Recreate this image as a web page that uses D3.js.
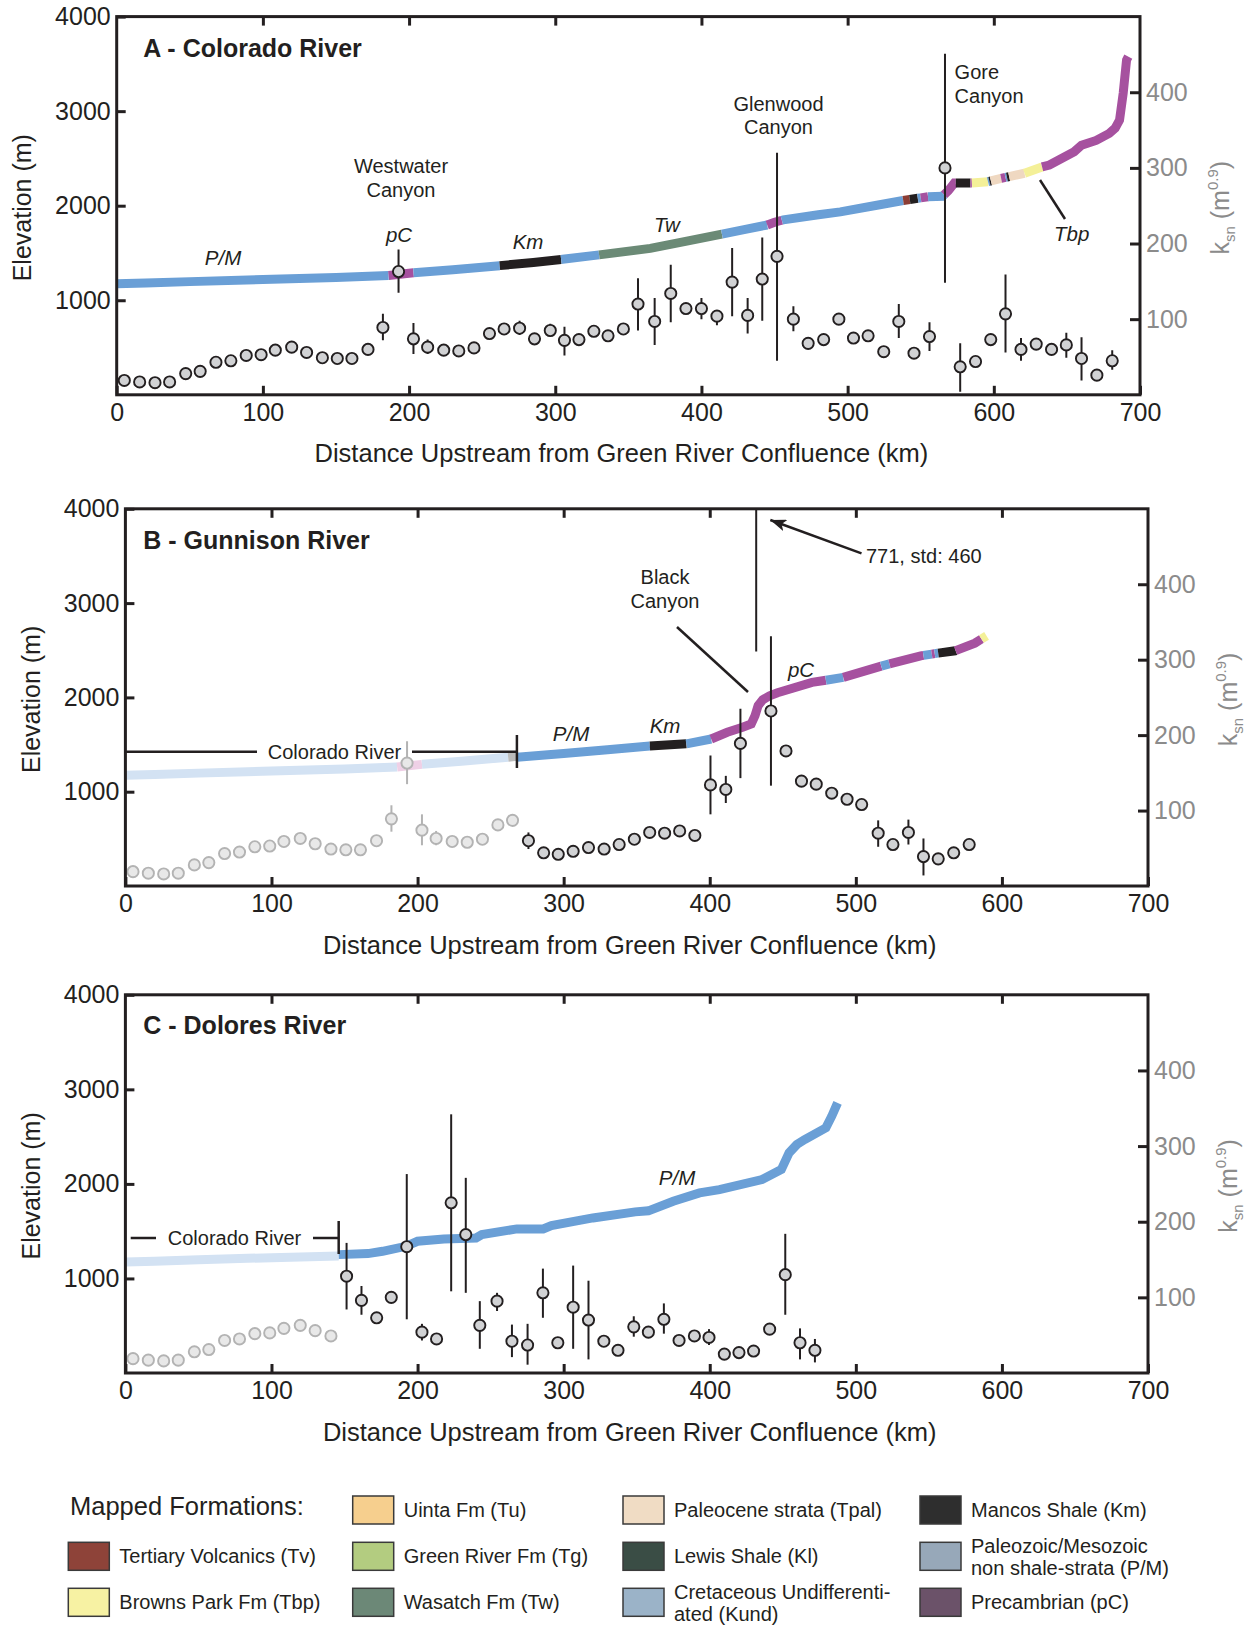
<!DOCTYPE html>
<html>
<head>
<meta charset="utf-8">
<script src="https://cdn.jsdelivr.net/npm/d3@7"></script>
<style>
  body { margin: 0; background: #fff; }
  svg { font-family: "Liberation Sans", Arial, Helvetica, sans-serif; }
</style>
</head>
<body>
<script>

// ---- data ----
const distanceTicks = [0, 100, 200, 300, 400, 500, 600, 700];
const elevationTicks = [1000, 2000, 3000, 4000];
const ksnTicks = [100, 200, 300, 400];

// river long profiles: [km upstream, elevation m]
const coloradoProfile = [
  [0, 1175], [20, 1183], [50, 1197], [100, 1220], [150, 1240], [186, 1262], [203, 1290],
  [230, 1322], [262, 1366], [285, 1400], [305, 1433], [330, 1480], [365, 1549], [390, 1625],
  [414, 1700], [430, 1750], [445, 1796], [450, 1825], [456, 1850], [480, 1905], [495, 1935],
  [520, 2005], [538, 2055], [555, 2095], [565, 2100], [569, 2160], [573, 2240], [585, 2240],
  [596, 2254], [605, 2290], [621, 2343], [633, 2410], [638, 2430], [655, 2571], [660, 2640],
  [670, 2690], [679, 2765], [683, 2820], [686, 2906], [688.5, 3189], [690.8, 3541], [692, 3576]
];
const gunnisonProfile = [
  [268, 1365], [300, 1405], [330, 1445], [359, 1485], [384, 1508], [401, 1559], [412, 1630],
  [422.5, 1683], [428.4, 1718], [431, 1806], [433.1, 1912], [436.3, 1975], [441, 2018],
  [446.4, 2050], [470, 2159], [491.4, 2212], [518, 2335], [544.4, 2441], [556, 2469],
  [568, 2494], [581.5, 2575], [589.5, 2653]
];
const doloresProfile = [
  [146, 1252], [166, 1263], [176, 1287], [192, 1340], [200, 1393], [218, 1418], [240, 1428],
  [244, 1464], [268, 1524], [286, 1524], [291.6, 1559], [320, 1640], [349, 1704], [358, 1715],
  [375, 1817], [393, 1905], [406.6, 1940], [435.8, 2046], [449, 2152], [454.3, 2328],
  [459.6, 2416], [465, 2469], [479.5, 2593], [483.5, 2716], [487.5, 2857]
];

// mapped formation along each profile: [from km, to km, unit]
const coloradoUnits = [
  [0, 186, 'PM'], [186, 203, 'pC'], [203, 262, 'PM'], [262, 304, 'Km'], [304, 330, 'PM'],
  [330, 414, 'Tw'], [414, 445, 'PM'], [445, 455, 'pC'], [455, 538, 'PM'], [538, 542.5, 'Tv'],
  [542.5, 548, 'Km'], [548, 550, 'PM'], [550, 555, 'pC'], [555, 566, 'PM'], [566, 574, 'pC'],
  [574, 584, 'Km'], [584, 585, 'pC'], [585, 596, 'Tbp'], [596, 597, 'PM'], [597, 598, 'Km'],
  [598, 605, 'Tpal'], [605, 608, 'pC'], [608, 609, 'PM'], [609, 610.5, 'Km'],
  [610.5, 621, 'Tpal'], [621, 633, 'Tbp'], [633, 692, 'pC']
];
const gunnisonUnits = [
  [268, 359, 'PM'], [359, 384, 'Km'], [384, 401, 'PM'], [401, 479.5, 'pC'], [479.5, 491.4, 'PM'],
  [491.4, 517.4, 'pC'], [517.4, 523, 'PM'], [523, 546.3, 'pC'], [546.3, 552, 'PM'],
  [552, 554, 'pC'], [554, 556.4, 'PM'], [556.4, 568.3, 'Km'], [568.3, 586, 'pC'], [586, 589.5, 'Tbp']
];
const doloresUnits = [[146, 487.5, 'PM']];

// channel steepness: [km, ksn, low, high] (low/high only where an error bar shows)
const coloradoKsn = [
  [5.2, 19], [15.7, 17], [26.2, 16], [36.2, 17], [47.2, 28], [57.1, 31], [67.9, 43], [78.1, 45],
  [88.6, 52], [98.8, 53], [108.5, 59], [119.7, 63], [129.9, 56], [140.7, 49], [150.9, 48],
  [160.9, 48], [171.9, 60], [182.1, 89, 72, 107], [192.8, 163, 135, 192], [203, 74, 54, 95],
  [212.7, 63, 54, 73], [223.7, 59], [234, 58], [244.4, 62], [255, 81], [265, 87],
  [275.6, 88, 79, 98], [285.8, 74], [296.6, 85, 77, 94], [306.3, 72, 52, 90], [316.2, 73],
  [326.4, 84], [336.1, 78], [346.6, 87], [356.6, 120, 85, 154], [368, 97, 66, 128],
  [379, 134, 96, 172], [389.4, 114], [400, 114, 100, 128], [410.6, 104, 92, 112],
  [421, 149, 104, 194], [431.6, 105, 81, 128], [441.6, 153, 98, 208], [451.7, 183, 45, 320],
  [462.9, 100, 84, 117], [473, 68], [483.6, 73], [494, 100], [504, 75, 67, 83], [514, 78],
  [524.7, 57], [535, 97, 75, 120], [545.4, 55], [556, 77, 58, 96], [566.6, 300, 148, 451],
  [577, 37, 4, 68], [587.5, 44], [597.9, 73], [608, 107, 56, 159], [618.6, 60, 45, 75],
  [629, 67], [639.5, 60], [649.6, 66, 49, 82], [660, 48, 19, 76], [670.5, 26], [681, 45, 33, 59]
];
const gunnisonKsn = [
  [275.9, 60, 49, 71], [286.3, 44], [296.3, 42], [306.5, 46], [317, 51], [327.7, 49], [338, 55],
  [348.4, 62], [358.9, 71], [369.1, 70], [379.4, 73], [389.8, 67], [400.5, 134, 95, 173],
  [411, 128, 110, 146], [421, 189, 143, 235], [431.8, 771, 311, 1231], [441.9, 232, 133, 331],
  [452.2, 179], [462.8, 139], [472.9, 135], [483.5, 123], [494, 115], [504, 108],
  [515.3, 70, 52, 87], [525.4, 55], [536, 71, 55, 88], [546.3, 39, 14, 63], [556.4, 36],
  [567, 44], [577.6, 55]
];
const doloresKsn = [
  [151.4, 128, 84, 172], [161.6, 96, 77, 115], [172, 73], [182, 100], [192.6, 167, 71, 263],
  [203, 54, 43, 65], [213, 45], [223, 225, 108, 342], [233, 183, 106, 258], [242.6, 63, 32, 95],
  [254.4, 95, 82, 106], [264.6, 42, 21, 64], [275.3, 37, 11, 65], [285.8, 106, 73, 138],
  [296, 40], [306.5, 87, 32, 142], [317, 70, 18, 122], [327.5, 42], [337.2, 30],
  [348, 61, 48, 75], [358, 54], [368.6, 71, 52, 92], [379, 43], [389.5, 49],
  [399.5, 47, 37, 58], [410, 25], [420, 27], [430, 29], [441, 58], [451.7, 130, 77, 184],
  [461.8, 40, 18, 59], [472, 30, 14, 45]
];

// where the tributaries join the Colorado (km)
const gunnisonJoin = 268;
const doloresJoin = 146;

const legendNames = [
  'Tertiary Volcanics (Tv)', 'Browns Park Fm (Tbp)',
  'Uinta Fm (Tu)', 'Green River Fm (Tg)', 'Wasatch Fm (Tw)',
  'Paleocene strata (Tpal)', 'Lewis Shale (Kl)', 'Cretaceous Undifferenti-|ated (Kund)',
  'Mancos Shale (Km)', 'Paleozoic/Mesozoic|non shale-strata (P/M)', 'Precambrian (pC)'
];

// ---- styles ----
const INK = '#231f20';
const GREY_TXT = '#8b8b8b';
const unitColor = {PM: '#6a9fd6', pC: '#a6519f', Km: '#231f20', Tw: '#6b8a76',
  Tv: '#8c3d34', Tbp: '#f4f098', Tpal: '#efd8c1'};
const fadedColor = {PM: '#d3e2f3', pC: '#efd0e6', Km: '#bcbcbc'};
const legendColors = ['#8e4339', '#f7f2a3', '#f6cf8e', '#b3cc80', '#6c8877', '#f0dcc4',
  '#3a4d45', '#9bb3c8', '#2e2e2e', '#97a8b9', '#6b5269'];

const WIDTH = 1257;
const HEIGHT = 1625;

const svg = d3.select('body')
  .append('svg')
  .attr('width', WIDTH)
  .attr('height', HEIGHT);

svg.append('defs').append('marker')
  .attr('id', 'arrow')
  .attr('markerUnits', 'userSpaceOnUse')
  .attr('markerWidth', 16).attr('markerHeight', 12)
  .attr('viewBox', '0 0 16 12')
  .attr('refX', 16).attr('refY', 6)
  .attr('orient', 'auto')
  .append('path')
  .attr('d', 'M0,0 L16,6 L0,12 L4,6 Z')
  .attr('fill', INK);

const boxes = {
  A: {left: 116.7, right: 1140, top: 16.6, bottom: 394.8},
  B: {left: 125.4, right: 1148, top: 508.8, bottom: 886},
  C: {left: 125.4, right: 1148, top: 994.8, bottom: 1373}
};

function elevAt(profile, km) {
  const i = d3.bisector(d => d[0]).left(profile, km);
  if (i <= 0) return profile[0][1];
  if (i >= profile.length) return profile[profile.length - 1][1];
  const a = profile[i - 1], b = profile[i];
  return a[1] + (b[1] - a[1]) * (km - a[0]) / (b[0] - a[0]);
}

function makePanel(key) {
  const b = boxes[key];
  const s = {
    b: b,
    x: d3.scaleLinear().domain([0, 700]).range([b.left, b.right]),
    y: d3.scaleLinear().domain([0, 4000]).range([b.bottom, b.top]),
    k: d3.scaleLinear().domain([0, 500]).range([b.bottom, b.top])
  };
  svg.select('defs').append('clipPath').attr('id', 'clip' + key)
    .append('rect')
    .attr('x', b.left).attr('y', b.top)
    .attr('width', b.right - b.left).attr('height', b.bottom - b.top);
  s.g = svg.append('g').attr('clip-path', `url(#clip${key})`);
  return s;
}

function drawProfile(s, profile, units, colors, maxKm) {
  const line = d3.line().x(d => s.x(d[0])).y(d => s.y(d[1]));
  units.forEach(u => {
    const from = u[0];
    const to = Math.min(u[1], maxKm);
    if (to <= from) return;
    const pts = [[from, elevAt(profile, from)]]
      .concat(profile.filter(p => p[0] > from && p[0] < to))
      .concat([[to, elevAt(profile, to)]]);
    s.g.append('path')
      .attr('d', line(pts))
      .attr('fill', 'none')
      .attr('stroke', colors[u[2]])
      .attr('stroke-width', 9);
  });
}

function drawKsn(s, data, faded) {
  const stroke = faded ? '#b3b3b3' : INK;
  s.g.selectAll(null)
    .data(data.filter(d => d.length > 2))
    .enter()
    .append('line')
    .attr('x1', d => s.x(d[0])).attr('x2', d => s.x(d[0]))
    .attr('y1', d => s.k(d[2])).attr('y2', d => s.k(d[3]))
    .attr('stroke', stroke)
    .attr('stroke-width', 2);
  s.g.selectAll(null)
    .data(data)
    .enter()
    .append('circle')
    .attr('cx', d => s.x(d[0]))
    .attr('cy', d => s.k(d[1]))
    .attr('r', 5.6)
    .attr('fill', faded ? '#e8e8e8' : '#d1d2d4')
    .attr('stroke', stroke)
    .attr('stroke-width', 1.9);
}

function styleAxis(g, color) {
  g.select('.domain').remove();
  g.selectAll('.tick line').attr('stroke', INK).attr('stroke-width', 3);
  g.selectAll('.tick text')
    .attr('fill', color)
    .attr('font-size', 25)
    .attr('font-family', '"Liberation Sans", Arial, sans-serif');
}

function drawAxes(s, elevLabelX, ksnLabelX) {
  const b = s.b;
  svg.append('g')
    .attr('transform', `translate(0,${b.bottom})`)
    .call(d3.axisBottom(s.x).tickValues(distanceTicks).tickSize(-9).tickPadding(8)
      .tickFormat(d3.format('d')))
    .call(g => styleAxis(g, INK));
  svg.append('g')
    .attr('transform', `translate(0,${b.top})`)
    .call(d3.axisTop(s.x).tickValues(distanceTicks.slice(1, -1)).tickSize(-9).tickFormat(''))
    .call(g => styleAxis(g, INK));
  svg.append('g')
    .attr('transform', `translate(${b.left},0)`)
    .call(d3.axisLeft(s.y).tickValues(elevationTicks).tickSize(-9).tickPadding(6)
      .tickFormat(d3.format('d')))
    .call(g => styleAxis(g, INK));
  svg.append('g')
    .attr('transform', `translate(${b.right},0)`)
    .call(d3.axisRight(s.k).tickValues(ksnTicks).tickSize(-10).tickPadding(6)
      .tickFormat(d3.format('d')))
    .call(g => styleAxis(g, GREY_TXT));

  svg.append('rect')
    .attr('x', b.left).attr('y', b.top)
    .attr('width', b.right - b.left).attr('height', b.bottom - b.top)
    .attr('fill', 'none')
    .attr('stroke', INK)
    .attr('stroke-width', 3);

  const cy = (b.top + b.bottom) / 2 + 2;
  svg.append('text')
    .attr('transform', `translate(${elevLabelX},${cy}) rotate(-90)`)
    .attr('text-anchor', 'middle')
    .attr('font-size', 25)
    .attr('fill', INK)
    .text('Elevation (m)');

  const kl = svg.append('text')
    .attr('transform', `translate(${ksnLabelX},${cy}) rotate(-90)`)
    .attr('text-anchor', 'middle')
    .attr('font-size', 25)
    .attr('fill', GREY_TXT);
  kl.append('tspan').text('k');
  kl.append('tspan').attr('font-size', 15).attr('dy', 6).text('sn');
  kl.append('tspan').attr('dy', -6).text(' (m');
  kl.append('tspan').attr('font-size', 15).attr('dy', -11).text('0.9');
  kl.append('tspan').attr('dy', 11).text(')');

  svg.append('text')
    .attr('x', (b.left + b.right) / 2 - 7)
    .attr('y', b.bottom + 67.5)
    .attr('text-anchor', 'middle')
    .attr('font-size', 25.5)
    .attr('fill', INK)
    .text('Distance Upstream from Green River Confluence (km)');
}

function text(x, y, str, size, opts) {
  opts = opts || {};
  return svg.append('text')
    .attr('x', x).attr('y', y)
    .attr('font-size', size)
    .attr('font-weight', opts.bold ? 'bold' : null)
    .attr('font-style', opts.italic ? 'italic' : null)
    .attr('text-anchor', opts.anchor || 'start')
    .attr('fill', INK)
    .text(str);
}

function rule(x1, y1, x2, y2, w) {
  return svg.append('line')
    .attr('x1', x1).attr('y1', y1).attr('x2', x2).attr('y2', y2)
    .attr('stroke', INK).attr('stroke-width', w || 2.5);
}

// ---- A: Colorado River ----
const pa = makePanel('A');
drawProfile(pa, coloradoProfile, coloradoUnits, unitColor, 700);
drawKsn(pa, coloradoKsn, false);
drawAxes(pa, 31, 1229);

text(143.3, 56.7, 'A - Colorado River', 25, {bold: true});
text(401, 173.3, 'Westwater', 20, {anchor: 'middle'});
text(401, 196.7, 'Canyon', 20, {anchor: 'middle'});
text(778.5, 111, 'Glenwood', 20, {anchor: 'middle'});
text(778.5, 134, 'Canyon', 20, {anchor: 'middle'});
text(954.6, 78.5, 'Gore', 20);
text(954.6, 102.5, 'Canyon', 20);
text(223, 265, 'P/M', 20.5, {italic: true, anchor: 'middle'});
text(399, 241.7, 'pC', 20.5, {italic: true, anchor: 'middle'});
text(528, 249.3, 'Km', 20.5, {italic: true, anchor: 'middle'});
text(667, 232.3, 'Tw', 20.5, {italic: true, anchor: 'middle'});
text(1071.7, 240.7, 'Tbp', 20.5, {italic: true, anchor: 'middle'});
rule(1040, 180, 1065, 219, 2.5);

// ---- B: Gunnison River ----
const pb = makePanel('B');
drawProfile(pb, coloradoProfile, coloradoUnits, fadedColor, gunnisonJoin);
drawProfile(pb, gunnisonProfile, gunnisonUnits, unitColor, 700);
drawKsn(pb, coloradoKsn.filter(d => d[0] < gunnisonJoin), true);
drawKsn(pb, gunnisonKsn, false);
drawAxes(pb, 40, 1237);

text(143.3, 549.3, 'B - Gunnison River', 25, {bold: true});
text(665, 584, 'Black', 20, {anchor: 'middle'});
text(665, 607.5, 'Canyon', 20, {anchor: 'middle'});
rule(677, 627, 748, 692, 2.5);
rule(861.5, 553.3, 770.3, 520, 2.5).attr('marker-end', 'url(#arrow)');
text(866, 563, '771, std: 460', 20);
rule(pb.b.left, 751.7, 257, 751.7, 2.5);
text(334.5, 758.5, 'Colorado River', 20, {anchor: 'middle'});
rule(412, 751.7, pb.x(gunnisonJoin), 751.7, 2.5);
rule(pb.x(gunnisonJoin), 735, pb.x(gunnisonJoin), 768, 2.5);
text(571, 740.7, 'P/M', 20.5, {italic: true, anchor: 'middle'});
text(665, 733, 'Km', 20.5, {italic: true, anchor: 'middle'});
text(801, 676.7, 'pC', 20.5, {italic: true, anchor: 'middle'});

// ---- C: Dolores River ----
const pc = makePanel('C');
drawProfile(pc, coloradoProfile, coloradoUnits, fadedColor, doloresJoin);
drawProfile(pc, doloresProfile, doloresUnits, unitColor, 700);
drawKsn(pc, coloradoKsn.filter(d => d[0] < doloresJoin), true);
drawKsn(pc, doloresKsn, false);
drawAxes(pc, 40, 1237);

text(143.3, 1034.3, 'C - Dolores River', 25, {bold: true});
rule(130.7, 1238, 156, 1238, 2.5);
text(234.5, 1245, 'Colorado River', 20, {anchor: 'middle'});
rule(313, 1238, pc.x(doloresJoin), 1238, 2.5);
rule(pc.x(doloresJoin), 1221, pc.x(doloresJoin), 1254, 2.5);
text(677, 1185, 'P/M', 20.5, {italic: true, anchor: 'middle'});

// ---- legend ----
text(70, 1515, 'Mapped Formations:', 25.5);
const legendColX = [68.3, 352.7, 623, 920];
const legendRowY = [1496, 1542.3, 1588.3];
const legendSlots = [[0, 1], [0, 2], [1, 0], [1, 1], [1, 2], [2, 0], [2, 1], [2, 2], [3, 0], [3, 1], [3, 2]];

const legend = svg.append('g');
legendNames.forEach((name, i) => {
  const x = legendColX[legendSlots[i][0]];
  const y = legendRowY[legendSlots[i][1]];
  legend.append('rect')
    .attr('x', x).attr('y', y)
    .attr('width', 41).attr('height', 28)
    .attr('fill', legendColors[i])
    .attr('stroke', '#3a3a3a')
    .attr('stroke-width', 1.5);
  const lines = name.split('|');
  const t = legend.append('text')
    .attr('font-size', 20)
    .attr('fill', INK);
  lines.forEach((ln, j) => {
    t.append('tspan')
      .attr('x', x + 51)
      .attr('y', lines.length === 1 ? y + 21 : y + 11 + j * 21.5)
      .text(ln);
  });
});

</script>
</body>
</html>
